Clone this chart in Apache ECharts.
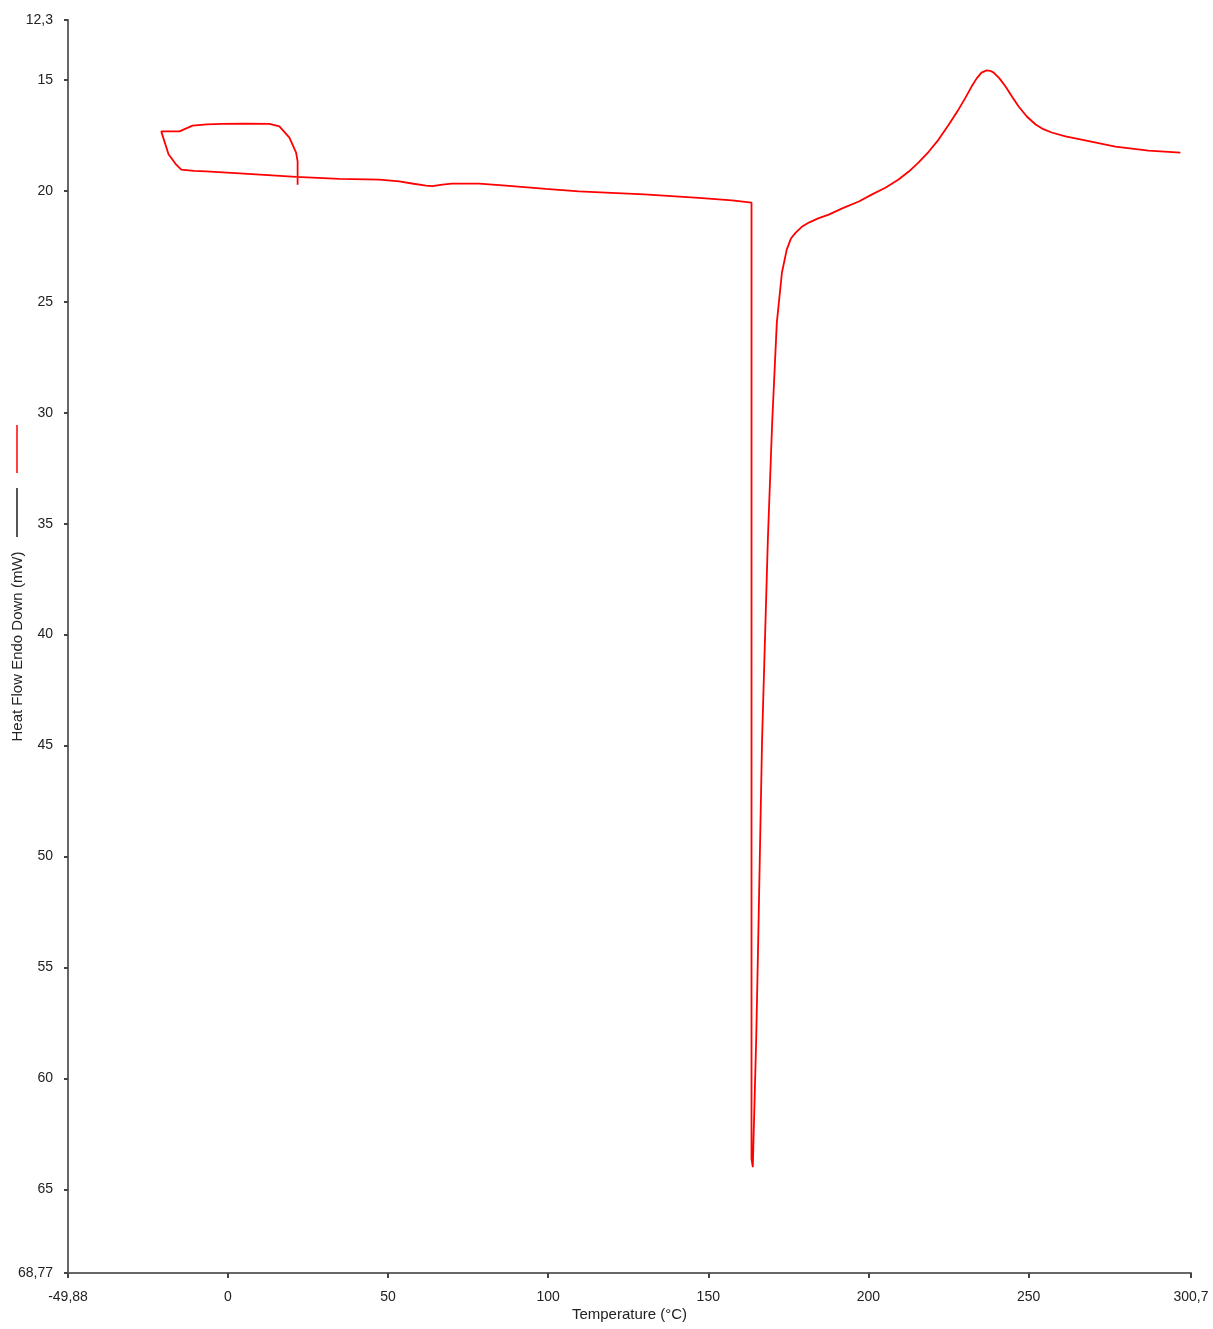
<!DOCTYPE html>
<html>
<head>
<meta charset="utf-8">
<script src="https://cdn.jsdelivr.net/npm/echarts@6/dist/echarts.min.js"></script>
<style>
html,body{margin:0;padding:0;background:#fff;}
#c{width:1213px;height:1329px;}
</style>
</head>
<body>
<div id="c"></div>
<script>
// Temperature (°C) and Heat Flow (mW), traced in run order
const temperature = [
  21.8, 21.8, 21.8, 21.33, 19.24, 16.12, 13.0, 5.0, -1.65, -6.5, -11.0, -15.06, -18.5, -20.77,
  -18.5, -16.09, -14.53, -10.5, -6.74, 5.0, 21.33, 34.83, 47.3, 53.5, 58.0, 61.9, 63.8, 67.0, 70.0, 78.5,
  86.8, 99.3, 109.6, 130.0, 147.0, 157.4, 163.5,
  163.5, 163.5, 163.5, 163.9,
  164.96, 165.6, 166.8, 168.6, 169.95, 171.4, 173.0, 174.5, 175.8, 177.3, 179.2, 181.4, 184.3, 187.6, 192.0, 197.0,
  201.0, 205.3, 209.4, 212.6, 215.6, 218.8, 221.9, 225.0, 228.1, 230.3, 232.2, 233.8, 235.3, 236.9, 238.0, 239.1,
  240.9, 242.8, 244.8, 246.9, 249.5, 252.2, 254.6, 257.2, 261.5, 266.5, 277.1, 287.4, 297.4
];
const heatFlow = [
  19.72, 19.04, 18.67, 18.28, 17.60, 17.09, 16.98, 16.97, 16.98, 17.00, 17.06, 17.32, 17.32, 17.32,
  18.35, 18.82, 19.04, 19.10, 19.12, 19.22, 19.37, 19.46, 19.49, 19.57, 19.68, 19.76, 19.79, 19.72, 19.67, 19.67,
  19.76, 19.91, 20.02, 20.16, 20.32, 20.43, 20.53,
  38.42, 55.0, 63.63, 64.0,
  58.25, 53.73, 44.73, 35.72, 30.44, 25.94, 23.68, 22.65, 22.15, 21.88, 21.62, 21.43, 21.24, 21.07, 20.78, 20.48,
  20.17, 19.86, 19.49, 19.13, 18.73, 18.24, 17.69, 17.03, 16.34, 15.80, 15.30, 14.93, 14.67, 14.57, 14.59, 14.67,
  14.93, 15.30, 15.75, 16.20, 16.66, 17.01, 17.22, 17.37, 17.54, 17.69, 18.01, 18.19, 18.28
];
const xTicks = [-49.88, 0, 50, 100, 150, 200, 250, 300.7];
const yTicks = [12.3, 15, 20, 25, 30, 35, 40, 45, 50, 55, 60, 65, 68.77];

const points = temperature.map((t, i) => [t, heatFlow[i]]);
const fmt = v => String(v).replace('.', ',');
const labelStyle = { fontFamily: 'Liberation Sans, Arial, sans-serif', fontSize: 14, color: '#222' };
const nameStyle = { fontFamily: 'Liberation Sans, Arial, sans-serif', fontSize: 15, color: '#222' };

const chart = echarts.init(document.getElementById('c'), null, { renderer: 'canvas' });
chart.setOption({
  backgroundColor: '#fff',
  animation: false,
  grid: { left: 68, right: 22, top: 20, bottom: 56, containLabel: false, outerBoundsMode: 'none' },
  xAxis: {
    type: 'value',
    min: xTicks[0], max: xTicks[xTicks.length - 1],
    name: 'Temperature (°C)', nameLocation: 'middle', nameGap: 34, nameMoveOverlap: false,
    nameTextStyle: nameStyle,
    axisLine: { onZero: false, lineStyle: { color: '#666', width: 2 } },
    axisTick: { show: true, customValues: xTicks, length: 5, lineStyle: { color: '#444', width: 2 } },
    axisLabel: Object.assign({ customValues: xTicks, margin: 17, formatter: fmt, showMinLabel: true, showMaxLabel: true, hideOverlap: false }, labelStyle),
    splitLine: { show: false }
  },
  yAxis: {
    type: 'value', inverse: true,
    min: yTicks[0], max: yTicks[yTicks.length - 1],
    name: 'Heat Flow Endo Down (mW)', nameLocation: 'middle', nameGap: 43, nameRotate: 90, nameMoveOverlap: false,
    nameTextStyle: nameStyle,
    axisLine: { onZero: false, lineStyle: { color: '#666', width: 2 } },
    axisTick: { show: true, customValues: yTicks, length: 4, lineStyle: { color: '#444', width: 2 } },
    axisLabel: Object.assign({ customValues: yTicks, margin: 15, formatter: fmt, showMinLabel: true, showMaxLabel: true, hideOverlap: false }, labelStyle),
    splitLine: { show: false }
  },
  graphic: [
    { type: 'line', shape: { x1: 17, y1: 425, x2: 17, y2: 473 }, style: { stroke: '#ff4040', lineWidth: 2 } },
    { type: 'line', shape: { x1: 17, y1: 488, x2: 17, y2: 537 }, style: { stroke: '#555', lineWidth: 2 } }
  ],
  series: [{
    type: 'line',
    data: points,
    showSymbol: false,
    smooth: false,
    lineStyle: { color: '#ff0000', width: 1.8 },
    clip: true
  }]
});
</script>
</body>
</html>
